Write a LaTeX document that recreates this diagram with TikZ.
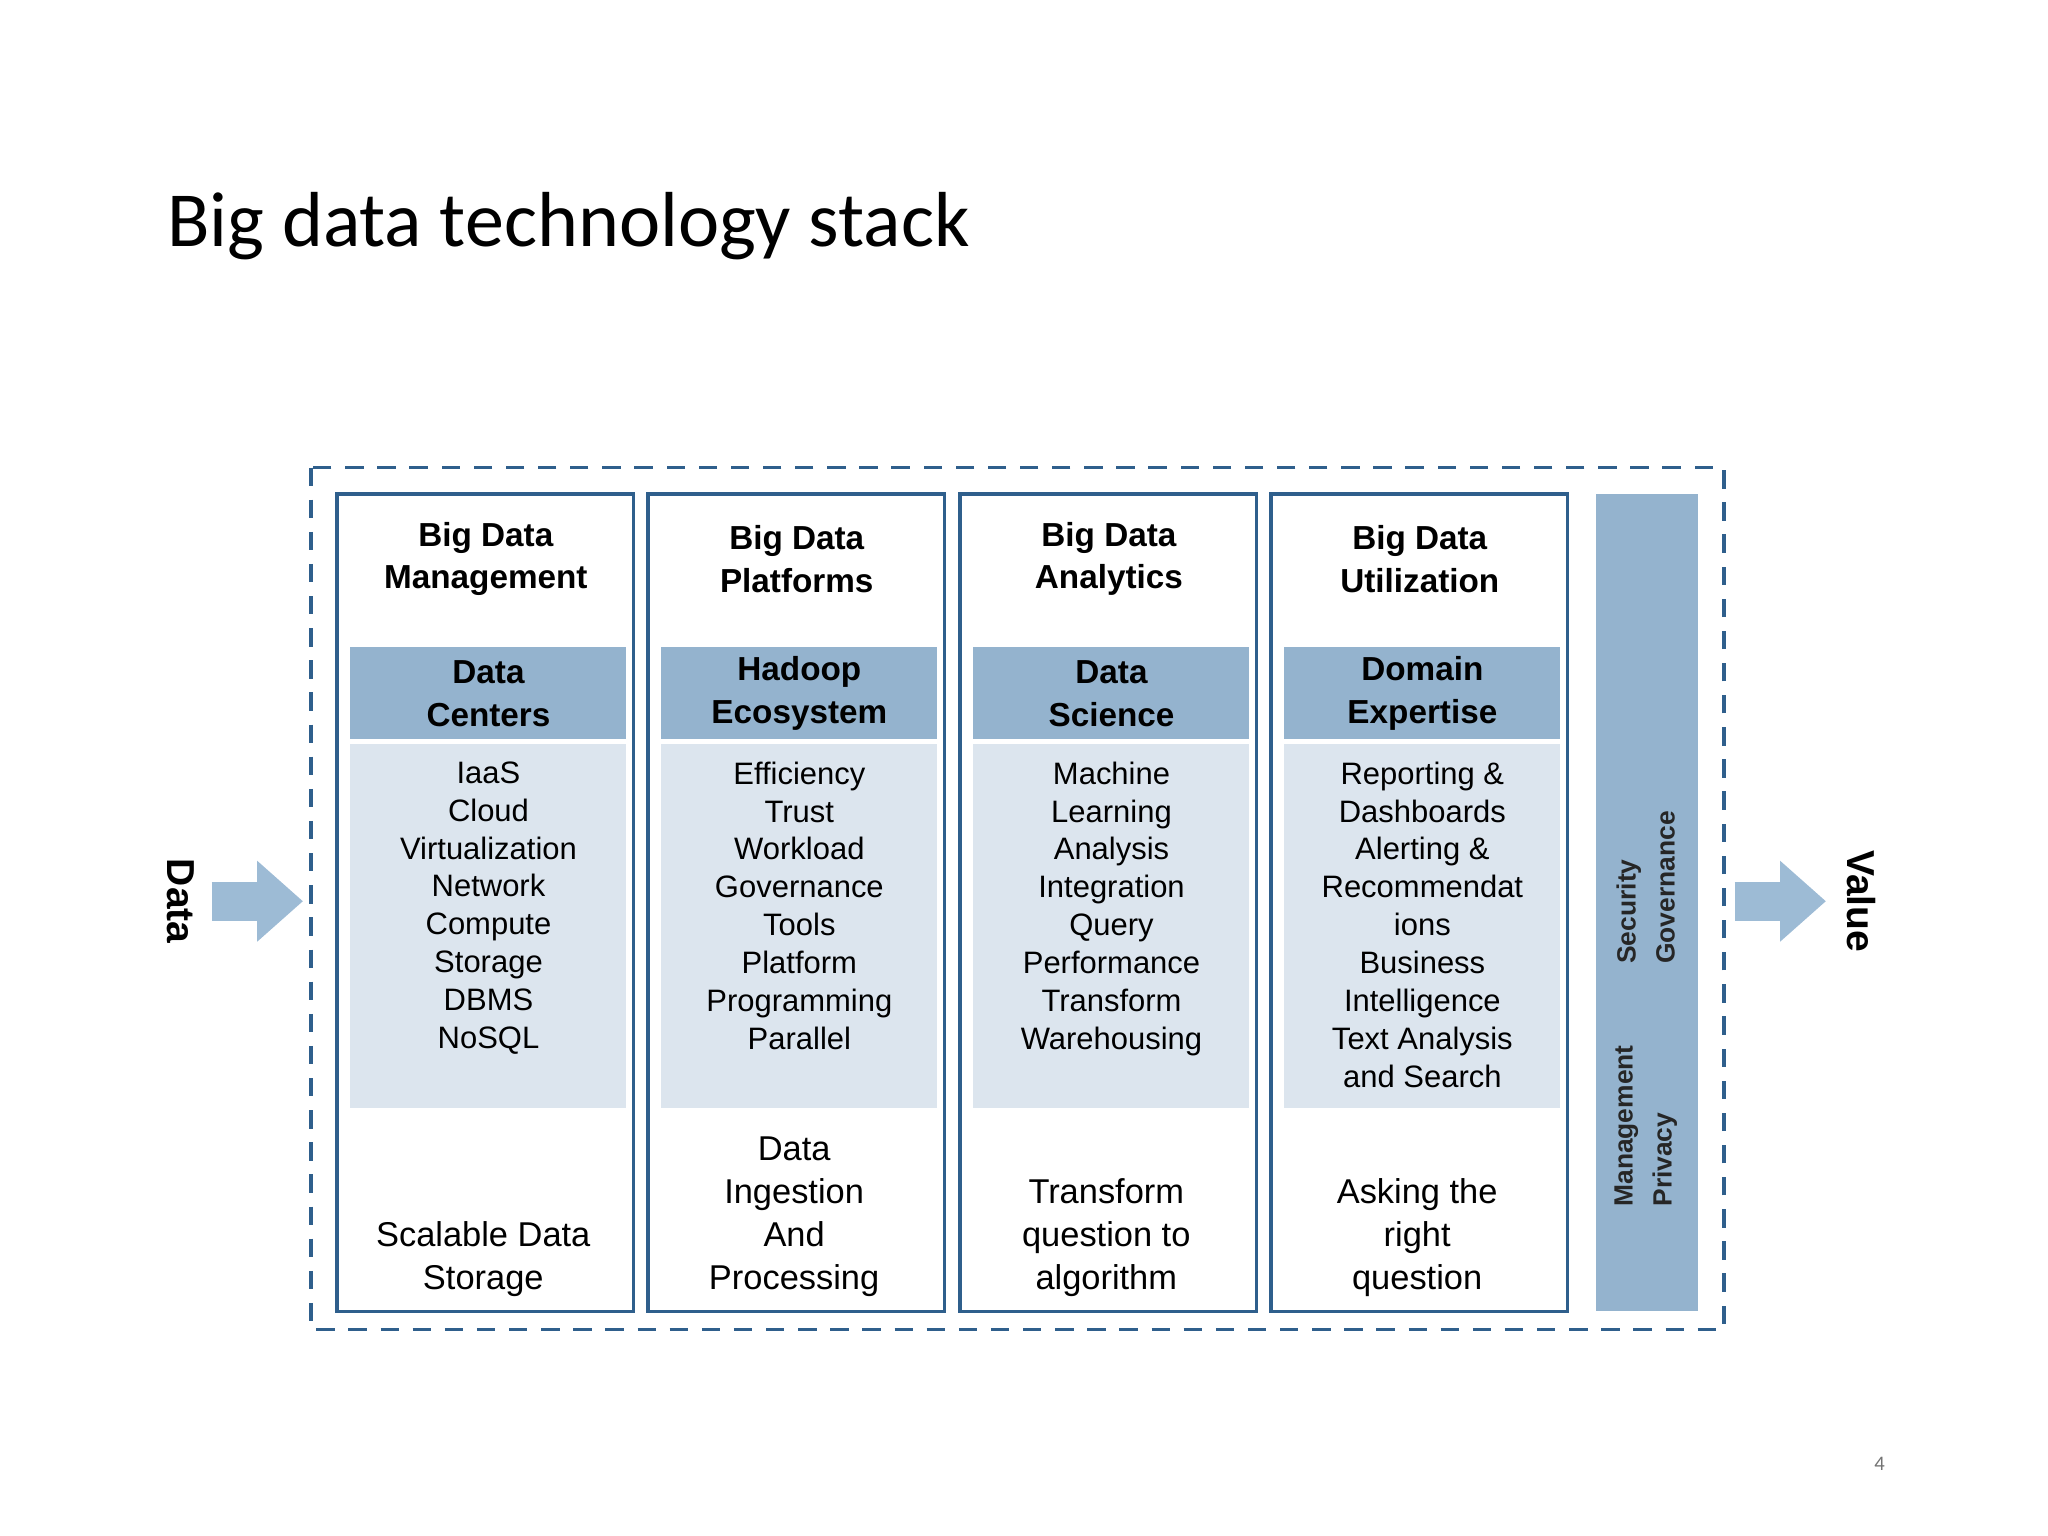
\documentclass[tikz,border=0pt]{standalone}
\usepackage{fontspec}
\setmainfont{Liberation Sans}
\newfontfamily\titlefont{Carlito}
\usetikzlibrary{arrows.meta,positioning}
\definecolor{stackblue}{HTML}{2F5F8C}
\definecolor{headblue}{HTML}{94B3CE}
\definecolor{lightblue}{HTML}{DCE5EE}
\definecolor{arrowblue}{HTML}{9DBBD5}
\tikzset{
	column/.style={draw=stackblue,line width=1.6pt},
	head/.style={font=\fontsize{14.5}{18.5}\selectfont\bfseries,align=center},
	items/.style={font=\fontsize{13.5}{16.5}\selectfont,align=center,anchor=north},
	foot/.style={font=\fontsize{15}{18.8}\selectfont,align=center,anchor=south},
	sidetext/.style={font=\fontsize{11.5}{17}\selectfont\bfseries,align=left,rotate=90,text=black!85},
	bigarrow/.style={-{Triangle[width=34pt,length=20pt]},line width=17pt,draw=arrowblue}
}
\begin{document}
\begin{tikzpicture}[x=0.02cm,y=-0.02cm]
	\useasboundingbox (0,0) rectangle (1568,1176);
	% title %
	\node[anchor=west,font=\titlefont\fontsize{34}{40}\selectfont] (title) at (122,173) {Big data technology stack};
	% frame %
	\draw[stackblue,line width=1.6pt,dash pattern=on 8pt off 6pt] (238,358) rectangle (1320,1018);
	% columns %
	\foreach \x/\n/\ttl/\sub/\body/\bot/\by in {
		258/m/{Big Data\\Management}/{Data\\Centers}/{IaaS\\Cloud\\Virtualization\\Network\\Compute\\Storage\\DBMS\\NoSQL}/{Scalable Data\\Storage}/999,
		496/p/{Big Data\\Platforms}/{Hadoop\\Ecosystem}/{Efficiency\\Trust\\Workload\\Governance\\Tools\\Platform\\Programming\\Parallel}/{Data\\Ingestion\\And\\Processing}/999,
		735/a/{Big Data\\Analytics}/{Data\\Science}/{Machine\\Learning\\Analysis\\Integration\\Query\\Performance\\Transform\\Warehousing}/{Transform\\question to\\algorithm}/999,
		973/u/{Big Data\\Utilization}/{Domain\\Expertise}/{Reporting \&\\Dashboards\\Alerting \&\\Recommendat\\ions\\Business\\Intelligence\\Text Analysis\\and Search}/{Asking the\\right\\question}/999}{
		\draw[column] (\x,378) rectangle ++(227,626);
		\fill[headblue] (\x+10,495) rectangle ++(211,71);
		\fill[lightblue] (\x+10,570) rectangle ++(211,278);
		\node[head] (\n-title) at (\x+114,428) {\ttl};
		\node[head] (\n-sub) at (\x+116,531) {\sub};
		\node[items] (\n-body) at (\x+116,577) {\body};
		\node[foot] (\n-foot) at (\x+112,\by) {\bot};
	}
	% side bar %
	\fill[headblue] (1222,378) rectangle (1300,1004);
	\node[sidetext,anchor=west] (mp) at (1260,930) {Management\\Privacy};
	\node[sidetext,anchor=west] (sg) at (1260,744) {Security\\Governance};
	% in and out %
	\coordinate (din) at (162,690);
	\coordinate (dout) at (232,690);
	\coordinate (vin) at (1328,690);
	\coordinate (vout) at (1398,690);
	\draw[bigarrow] (din) -- (dout);
	\draw[bigarrow] (vin) -- (vout);
	\node[rotate=-90,font=\fontsize{17}{20}\selectfont\bfseries] (data) at (138,690) {Data};
	\node[rotate=-90,font=\fontsize{17}{20}\selectfont\bfseries] (value) at (1425,690) {Value};
	\node[font=\titlefont\fontsize{9}{10}\selectfont,text=black!55] (page) at (1439,1121) {4};
\end{tikzpicture}
\end{document}
